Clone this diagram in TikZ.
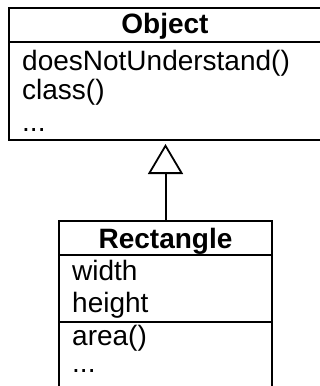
\documentclass[tikz,border=0pt]{standalone}
\usepackage{fontspec}
\setmainfont{Liberation Sans}
\usetikzlibrary{arrows.meta}
\begin{document}
\begin{tikzpicture}[x=1pt,y=-1pt,
  classbox/.style={draw, line width=2pt, inner sep=0pt, minimum width=#1},
  member/.style={anchor=base west, inner sep=0pt, font=\fontsize{28}{33}\selectfont},
  title/.style={anchor=base, inner sep=0pt, font=\fontsize{28}{33}\selectfont\bfseries},
  sep/.style={line width=2pt},
  inherit/.style={line width=2pt, -{Triangle[open, length=30pt, width=35pt, line width=1.8pt]}, shorten >=3pt}]
\useasboundingbox (0,0) rectangle (320,386);

% Object class
\node[classbox=312pt, minimum height=132pt] (obj) at (165,74) {};
\node[title] (objname) at (165,33) {Object};
\draw[sep] (9,41.5) coordinate (objsepL) -- (321,41.5) coordinate (objsepR);
\node[member] (m1) at (22,70) {doesNotUnderstand()};
\node[member] (m2) at (22,99) {class()};
\node[member] (m3) at (22,131) {...};

% Rectangle class
\node[classbox=213pt, minimum height=166pt] (rect) at (165.5,304) {};
\node[title] (rectname) at (165.5,248) {Rectangle};
\draw[sep] (59,255) coordinate (rsep1L) -- (272,255) coordinate (rsep1R);
\draw[sep] (59,322) coordinate (rsep2L) -- (272,322) coordinate (rsep2R);
\node[member] (a1) at (72,280) {width};
\node[member] (a2) at (72,312) {height};
\node[member] (o1) at (72,345) {area()};
\node[member] (o2) at (72,372) {...};

% generalization
\draw[inherit] (rect.north) -- (rect.north |- obj.south);
\end{tikzpicture}
\end{document}
